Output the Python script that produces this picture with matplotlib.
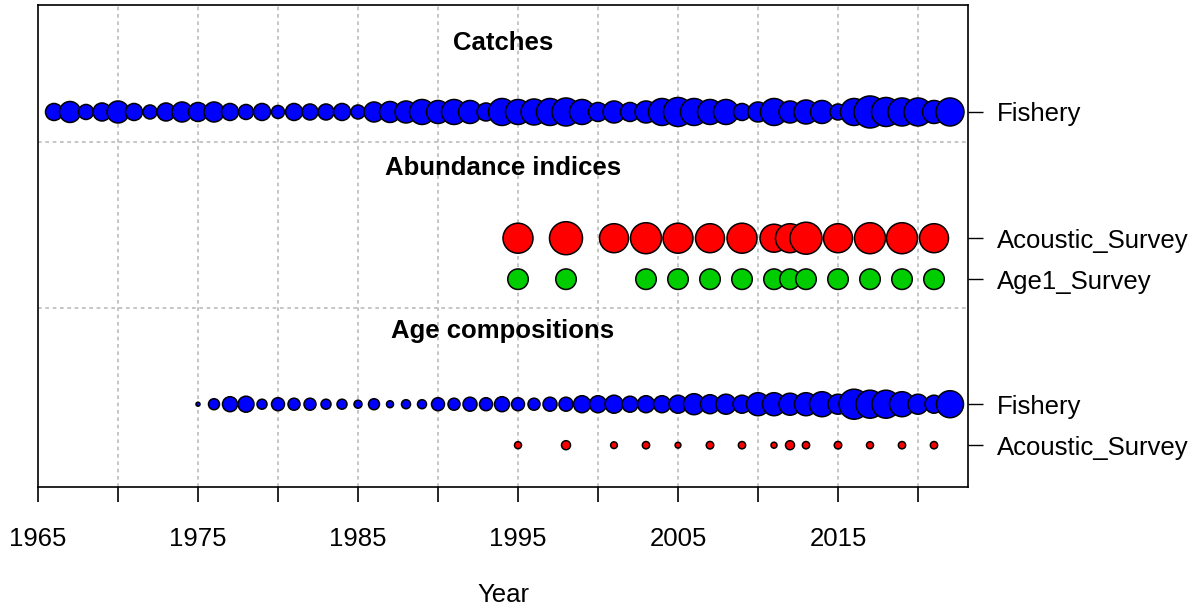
import matplotlib
matplotlib.use("Agg")
import matplotlib.pyplot as plt

plt.rcParams['font.family'] = ['Liberation Sans', 'DejaVu Sans']

# === DATA (bubble values are relative magnitudes) ===
catch_years = list(range(1966, 2023))
catch_vals = [17, 21, 15, 18, 22, 17, 14, 18, 20, 19,
              20, 17, 15, 17, 13, 17, 16, 16, 17, 14,
              20, 21, 22, 25, 23, 25, 23, 18, 27, 25,
              26, 27, 28, 25, 19, 22, 19, 22, 27, 29,
              27, 25, 25, 17, 20, 27, 22, 24, 23, 16,
              27, 32, 29, 28, 28, 23, 28]

acoustic_years = [1995, 1998, 2001, 2003, 2005, 2007, 2009, 2011, 2012, 2013, 2015, 2017, 2019, 2021]
acoustic_vals = [30, 33, 29, 31, 30, 29, 30, 28, 29, 32, 29, 31, 31, 29]

age1_years = [1995, 1998, 2003, 2005, 2007, 2009, 2011, 2012, 2013, 2015, 2017, 2019, 2021]
age1_vals = [20.5] * len(age1_years)

agecomp_fish_years = list(range(1975, 2023))
agecomp_fish_vals = [4, 11, 15, 16, 10, 13, 12, 12, 10, 10,
                     8, 11, 7, 9, 9, 13, 12, 14, 13, 15,
                     13, 12, 14, 14, 17, 17, 18, 16, 17, 17,
                     18, 21, 19, 20, 18, 23, 23, 22, 23, 25,
                     20, 30, 28, 28, 25, 20, 18, 27]

agecomp_acou_years = acoustic_years
agecomp_acou_vals = [7, 9, 6.7, 7.3, 5.8, 7.5, 7.3, 6, 9, 7.3, 7.5, 7, 7.3, 7.3]

row_labels = ["Fishery", "Acoustic_Survey", "Age1_Survey", "Fishery", "Acoustic_Survey"]
section_titles = ["Catches", "Abundance indices", "Age compositions"]

# === LAYOUT ===
W, H, DPI = 1203, 609, 100
PX2PT = 72.0 / DPI
row_y = [9.15, 6.07, 5.07, 2.02, 1.02]
sep_y = [8.41, 4.37]
title_y = [10.83, 7.78, 3.80]
FS = 18.5

BLUE, RED, GREEN = "#0000FF", "#FF0000", "#00CD00"

fig = plt.figure(figsize=(W / DPI, H / DPI), dpi=DPI)
ax = fig.add_axes([38 / W, 1 - 487 / H, 930 / W, 482 / H])
ax.set_xlim(1965, 1965 + 930 / 16)
ax.set_ylim(0, 11.76)

# grid
grid_kw = dict(color="#BBBBBB", linestyle=(0, (2.2, 2.2)), linewidth=1.2, zorder=0)
for yr in range(1970, 2025, 5):
    ax.axvline(yr, **grid_kw)
for y in sep_y:
    ax.axhline(y, **grid_kw)


def bubbles(years, vals, y, color):
    sizes = [(v * PX2PT) ** 2 for v in vals]
    ax.scatter(years, [y] * len(years), s=sizes, c=color, edgecolors="black",
               linewidths=1.1, zorder=3)


bubbles(catch_years, catch_vals, row_y[0], BLUE)
bubbles(acoustic_years, acoustic_vals, row_y[1], RED)
bubbles(age1_years, age1_vals, row_y[2], GREEN)
bubbles(agecomp_fish_years, agecomp_fish_vals, row_y[3], BLUE)
bubbles(agecomp_acou_years, agecomp_acou_vals, row_y[4], RED)

xmid = 1965 + 930 / 16 / 2
for t, y in zip(section_titles, title_y):
    ax.text(xmid, y, t, ha="center", va="center", fontsize=FS, fontweight="bold")

# axes
ax.set_xticks(range(1965, 2025, 5))
ax.set_xticklabels([str(y) if (y - 1965) % 10 == 0 else "" for y in range(1965, 2025, 5)])
ax.tick_params(axis="x", length=11, width=1.2, labelsize=FS, pad=18)
ax.yaxis.tick_right()
ax.set_yticks(row_y)
ax.set_yticklabels(row_labels)
ax.tick_params(axis="y", length=11, width=1.0, labelsize=FS, pad=10)
for sp in ax.spines.values():
    sp.set_linewidth(1.2)
ax.set_xlabel("Year", fontsize=FS, labelpad=23)

fig.savefig("out.png", dpi=DPI)
